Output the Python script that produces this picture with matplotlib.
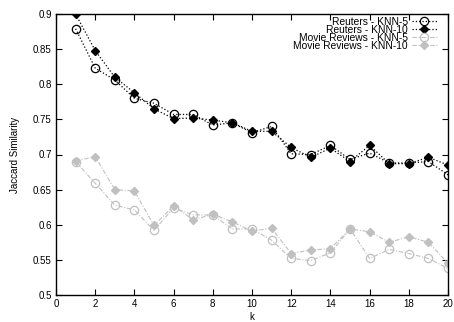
import numpy as np
import matplotlib
matplotlib.use("Agg")
import matplotlib.pyplot as plt

plt.rcParams['font.family'] = ['Liberation Sans', 'DejaVu Sans']

k = np.arange(1, 21)

reuters_knn5 = [0.879, 0.823, 0.806, 0.780, 0.773, 0.757, 0.757, 0.742, 0.745, 0.731,
                0.740, 0.701, 0.700, 0.713, 0.693, 0.702, 0.688, 0.688, 0.690, 0.671]
reuters_knn10 = [0.900, 0.848, 0.810, 0.788, 0.765, 0.751, 0.752, 0.749, 0.745, 0.733,
                 0.733, 0.710, 0.696, 0.709, 0.690, 0.713, 0.687, 0.687, 0.696, 0.685]
movie_knn5 = [0.690, 0.659, 0.628, 0.621, 0.592, 0.624, 0.614, 0.614, 0.594, 0.594,
              0.578, 0.552, 0.549, 0.560, 0.594, 0.552, 0.565, 0.559, 0.552, 0.538]
movie_knn10 = [0.691, 0.697, 0.650, 0.648, 0.599, 0.627, 0.607, 0.615, 0.604, 0.591,
               0.595, 0.559, 0.564, 0.566, 0.594, 0.590, 0.575, 0.583, 0.575, 0.545]

labels = ['Reuters - KNN-5', 'Reuters - KNN-10',
          'Movie Reviews - KNN-5', 'Movie Reviews - KNN-10']

fig = plt.figure(figsize=(4.54, 3.22), dpi=100)
ax = fig.add_axes([56 / 454, 1 - 295 / 322, (448 - 56) / 454, (295 - 14) / 322])

gray = '#c0c0c0'
ax.plot(k, reuters_knn5, color='black', linestyle=':', linewidth=0.9,
        marker='o', markersize=6, markerfacecolor='none', markeredgewidth=0.9,
        label=labels[0])
ax.plot(k, reuters_knn10, color='black', linestyle=':', linewidth=0.9,
        marker='D', markersize=4.5, label=labels[1])
ax.plot(k, movie_knn5, color=gray, linestyle='-.', linewidth=0.8, dashes=(4, 1.5, 1, 1.5),
        marker='o', markersize=6, markerfacecolor='none', markeredgewidth=0.9,
        label=labels[2])
ax.plot(k, movie_knn10, color=gray, linestyle='-.', linewidth=0.8, dashes=(4, 1.5, 1, 1.5),
        marker='D', markersize=4.5, label=labels[3])

ax.set_xlim(0, 20)
ax.set_ylim(0.5, 0.9)
ax.set_xticks(np.arange(0, 21, 2))
ax.set_yticks(np.arange(0.5, 0.901, 0.05))
ax.set_yticklabels(['0.5', '0.55', '0.6', '0.65', '0.7', '0.75', '0.8', '0.85', '0.9'])
ax.tick_params(direction='in', top=True, right=True, labelsize=7, length=4,
               width=0.8, pad=3)
for s in ax.spines.values():
    s.set_linewidth(1.0)

ax.set_xlabel('k', fontsize=7, labelpad=2)
ax.set_ylabel('Jaccard Similarity', fontsize=7, labelpad=9)

leg = ax.legend(loc='upper right', bbox_to_anchor=(0.972, 0.99), frameon=False,
                markerfirst=False, fontsize=7.4, handlelength=2.45, handletextpad=0.4,
                labelspacing=-0.2, borderpad=0, borderaxespad=0)

fig.savefig('out.png', dpi=100)
